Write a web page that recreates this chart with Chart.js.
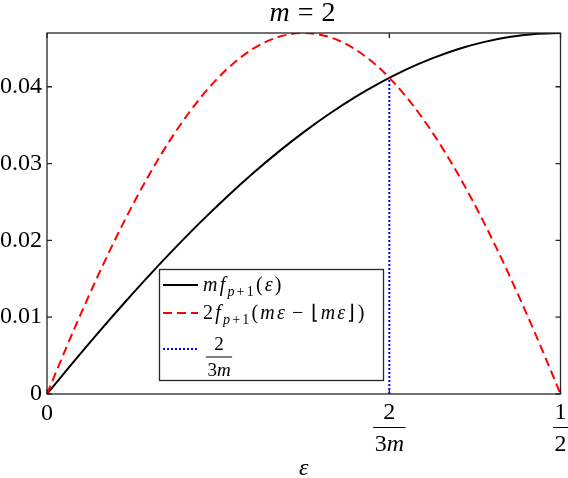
<!DOCTYPE html>
<html lang="en">
<head>
    <meta charset="UTF-8">
    <title>m = 2</title>
    <script src="https://cdn.jsdelivr.net/npm/chart.js"></script>
    <style>
        body { margin: 0; background: #fff; }
        .chart-box { width: 568px; height: 478px; }
    </style>
</head>
<body>
    <div class="chart-box"><canvas id="plot"></canvas></div>

    <script>
        // values
        const epsBlack = [0, 0.025, 0.05, 0.075, 0.1, 0.125, 0.15, 0.175, 0.2, 0.225, 0.25,
                          0.275, 0.3, 0.325, 0.35, 0.375, 0.4, 0.425, 0.45, 0.475, 0.5];
        const curveBlack = [0, 0.00404, 0.00799, 0.01181, 0.01551, 0.01905, 0.02244, 0.02565, 0.02867, 0.03149, 0.03410,
                            0.03649, 0.03866, 0.04058, 0.04227, 0.04370, 0.04489, 0.04581, 0.04647, 0.04687, 0.04700];

        const epsRed = [0, 0.0125, 0.025, 0.0375, 0.05, 0.0625, 0.075, 0.0875, 0.1, 0.1125, 0.125,
                        0.1375, 0.15, 0.1625, 0.175, 0.1875, 0.2, 0.2125, 0.225, 0.2375, 0.25,
                        0.2625, 0.275, 0.2875, 0.3, 0.3125, 0.325, 0.3375, 0.35, 0.3625, 0.375,
                        0.3875, 0.4, 0.4125, 0.425, 0.4375, 0.45, 0.4625, 0.475, 0.4875, 0.5];
        const curveRed = [0, 0.00404, 0.00799, 0.01181, 0.01551, 0.01905, 0.02244, 0.02565, 0.02867, 0.03149, 0.03410,
                          0.03649, 0.03866, 0.04058, 0.04227, 0.04370, 0.04489, 0.04581, 0.04647, 0.04687, 0.04700,
                          0.04687, 0.04647, 0.04581, 0.04489, 0.04370, 0.04227, 0.04058, 0.03866, 0.03649, 0.03410,
                          0.03149, 0.02867, 0.02565, 0.02244, 0.01905, 0.01551, 0.01181, 0.00799, 0.00404, 0];

        // vertical marker at 2/(3m)
        const markEps = [1 / 3, 1 / 3];
        const markVal = [0, 0.0412];

        const xTickVals = [0, 1 / 3, 0.5];
        const xTickText = [['0'], ['2', '3m'], ['1', '2']];
        const legendText = ['mf_{p+1}(ε)', '2f_{p+1}(mε − ⌊mε⌋)', ['2', '3m']];
        const titleText = 'm = 2';
        const xTitle = 'ε';

        const SERIF = "'Liberation Serif'";
        const INK = '#262626';

        // split "_{...}" into subscript runs, drop plain spaces
        function mathRuns(str) {
            const runs = [];
            let i = 0;
            while (i < str.length) {
                if (str.startsWith('_{', i)) {
                    const end = str.indexOf('}', i);
                    for (const ch of str.slice(i + 2, end)) runs.push({ ch, sub: true });
                    i = end + 1;
                } else {
                    if (str[i] !== ' ') runs.push({ ch: str[i], sub: false });
                    i++;
                }
            }
            return runs;
        }

        function runFont(r, size) {
            const italic = /[a-zε]/.test(r.ch);
            const px = Math.round(r.sub ? size * 0.7 : size);
            return (italic ? 'italic ' : '') + px + 'px ' + SERIF;
        }

        // opt.track: extra room after each glyph, opt.rel: room round = and −
        function runAdvance(ctx, r, size, opt) {
            ctx.font = runFont(r, size);
            const g = (r.ch === '=' || r.ch === '−') ? (opt.rel || 0) : 0;
            return { g, w: ctx.measureText(r.ch).width + 2 * g + (opt.track || 0) };
        }

        function mathWidth(ctx, str, size, opt = {}) {
            let w = 0;
            mathRuns(str).forEach(r => { w += runAdvance(ctx, r, size, opt).w; });
            return w - (opt.track || 0);
        }

        function drawMath(ctx, str, x, y, size, align, opt = {}) {
            const w = mathWidth(ctx, str, size, opt);
            let cx = align === 'center' ? x - w / 2 : (align === 'right' ? x - w : x);
            ctx.textAlign = 'left';
            ctx.textBaseline = 'alphabetic';
            mathRuns(str).forEach(r => {
                const adv = runAdvance(ctx, r, size, opt);
                ctx.fillText(r.ch, cx + adv.g, y + (r.sub ? size * 0.25 : 0));
                cx += adv.w;
            });
        }

        function drawFrac(ctx, num, den, cx, barY, size) {
            const w = Math.max(mathWidth(ctx, num, size), mathWidth(ctx, den, size)) + 3;
            drawMath(ctx, num, cx, barY - size * 0.36, size, 'center');
            drawMath(ctx, den, cx, barY + size * 0.98, size, 'center');
            ctx.lineWidth = 1;
            ctx.beginPath();
            ctx.moveTo(cx - w / 2, barY);
            ctx.lineTo(cx + w / 2, barY);
            ctx.stroke();
        }

        const decorations = {
            id: 'decorations',
            afterDatasetsDraw(chart) {
                const { ctx, chartArea: a, scales: { x, y } } = chart;
                ctx.save();
                ctx.strokeStyle = INK;
                ctx.fillStyle = INK;

                // box with inward ticks
                ctx.lineWidth = 1.3;
                ctx.strokeRect(a.left, a.top, a.right - a.left, a.bottom - a.top);
                ctx.beginPath();
                y.ticks.forEach(t => {
                    const py = y.getPixelForValue(t.value);
                    ctx.moveTo(a.left, py); ctx.lineTo(a.left + 5, py);
                    ctx.moveTo(a.right, py); ctx.lineTo(a.right - 5, py);
                });
                xTickVals.forEach(v => {
                    const px = x.getPixelForValue(v);
                    ctx.moveTo(px, a.bottom); ctx.lineTo(px, a.bottom - 5);
                    ctx.moveTo(px, a.top); ctx.lineTo(px, a.top + 5);
                });
                ctx.stroke();

                // x tick labels (fractions)
                ctx.fillStyle = '#000';
                ctx.strokeStyle = '#000';
                xTickVals.forEach((v, i) => {
                    const px = x.getPixelForValue(v);
                    const lab = xTickText[i];
                    if (lab.length === 1) drawMath(ctx, lab[0], px, a.bottom + 26, 24, 'center');
                    else drawFrac(ctx, lab[0], lab[1], px, a.bottom + 33.5, 24);
                });

                // axis title and chart title
                drawMath(ctx, xTitle, (a.left + a.right) / 2, 475, 24, 'center');
                drawMath(ctx, titleText, 302.5, 21, 28, 'center', { rel: 7, track: 1 });

                // legend
                const lx = 159.5, ly = 269.5, lw = 224, lh = 111;
                ctx.fillStyle = '#fff';
                ctx.fillRect(lx, ly, lw, lh);
                ctx.strokeStyle = INK;
                ctx.lineWidth = 1.3;
                ctx.strokeRect(lx, ly, lw, lh);

                const sampleY = [285, 313, 349];
                const textY = [291, 319, 357];
                chart.data.datasets.forEach((ds, i) => {
                    ctx.save();
                    ctx.strokeStyle = ds.borderColor;
                    ctx.lineWidth = ds.borderWidth;
                    ctx.setLineDash(ds.borderDash || []);
                    ctx.beginPath();
                    ctx.moveTo(163, sampleY[i]);
                    ctx.lineTo(198, sampleY[i]);
                    ctx.stroke();
                    ctx.restore();
                    ctx.fillStyle = '#000';
                    ctx.strokeStyle = '#000';
                    const lab = legendText[i];
                    if (Array.isArray(lab)) drawFrac(ctx, lab[0], lab[1], 219, textY[i], 19);
                    else drawMath(ctx, lab, 203, textY[i], 20, 'left', { rel: 5, track: 2.2 });
                });

                ctx.restore();
            }
        };

        const ctx = document.getElementById('plot').getContext('2d');
        const chart = new Chart(ctx, {
            type: 'line',
            data: {
                datasets: [{
                    label: legendText[0],
                    data: epsBlack.map((e, i) => ({ x: e, y: curveBlack[i] })),
                    borderColor: '#000000',
                    borderWidth: 2,
                    pointRadius: 0,
                    cubicInterpolationMode: 'monotone',
                    order: 2
                }, {
                    label: legendText[1],
                    data: epsRed.map((e, i) => ({ x: e, y: curveRed[i] })),
                    borderColor: '#ff0000',
                    borderWidth: 2,
                    borderDash: [9, 5],
                    pointRadius: 0,
                    cubicInterpolationMode: 'monotone',
                    order: 1
                }, {
                    label: '2/(3m)',
                    data: markEps.map((e, i) => ({ x: e, y: markVal[i] })),
                    borderColor: '#0000ff',
                    borderWidth: 2,
                    borderDash: [2, 2],
                    pointRadius: 0,
                    order: 0
                }]
            },
            options: {
                responsive: true,
                maintainAspectRatio: false,
                animation: false,
                layout: { padding: { top: 33, right: 7.5, left: 0, bottom: 0 } },
                plugins: {
                    legend: { display: false },
                    tooltip: { enabled: false }
                },
                scales: {
                    x: {
                        type: 'linear',
                        min: 0,
                        max: 0.5,
                        grid: { display: false },
                        border: { display: false },
                        ticks: { display: false },
                        afterFit: s => { s.height = 84; }
                    },
                    y: {
                        min: 0,
                        max: 0.047,
                        grid: { display: false, drawTicks: false },
                        border: { display: false },
                        ticks: {
                            stepSize: 0.01,
                            includeBounds: false,
                            padding: 5,
                            color: '#000',
                            font: { family: SERIF, size: 24 },
                            callback: v => v === 0 ? '0' : v.toFixed(2)
                        },
                        afterFit: s => { s.width = 47; }
                    }
                }
            },
            plugins: [decorations]
        });
    </script>
</body>
</html>
